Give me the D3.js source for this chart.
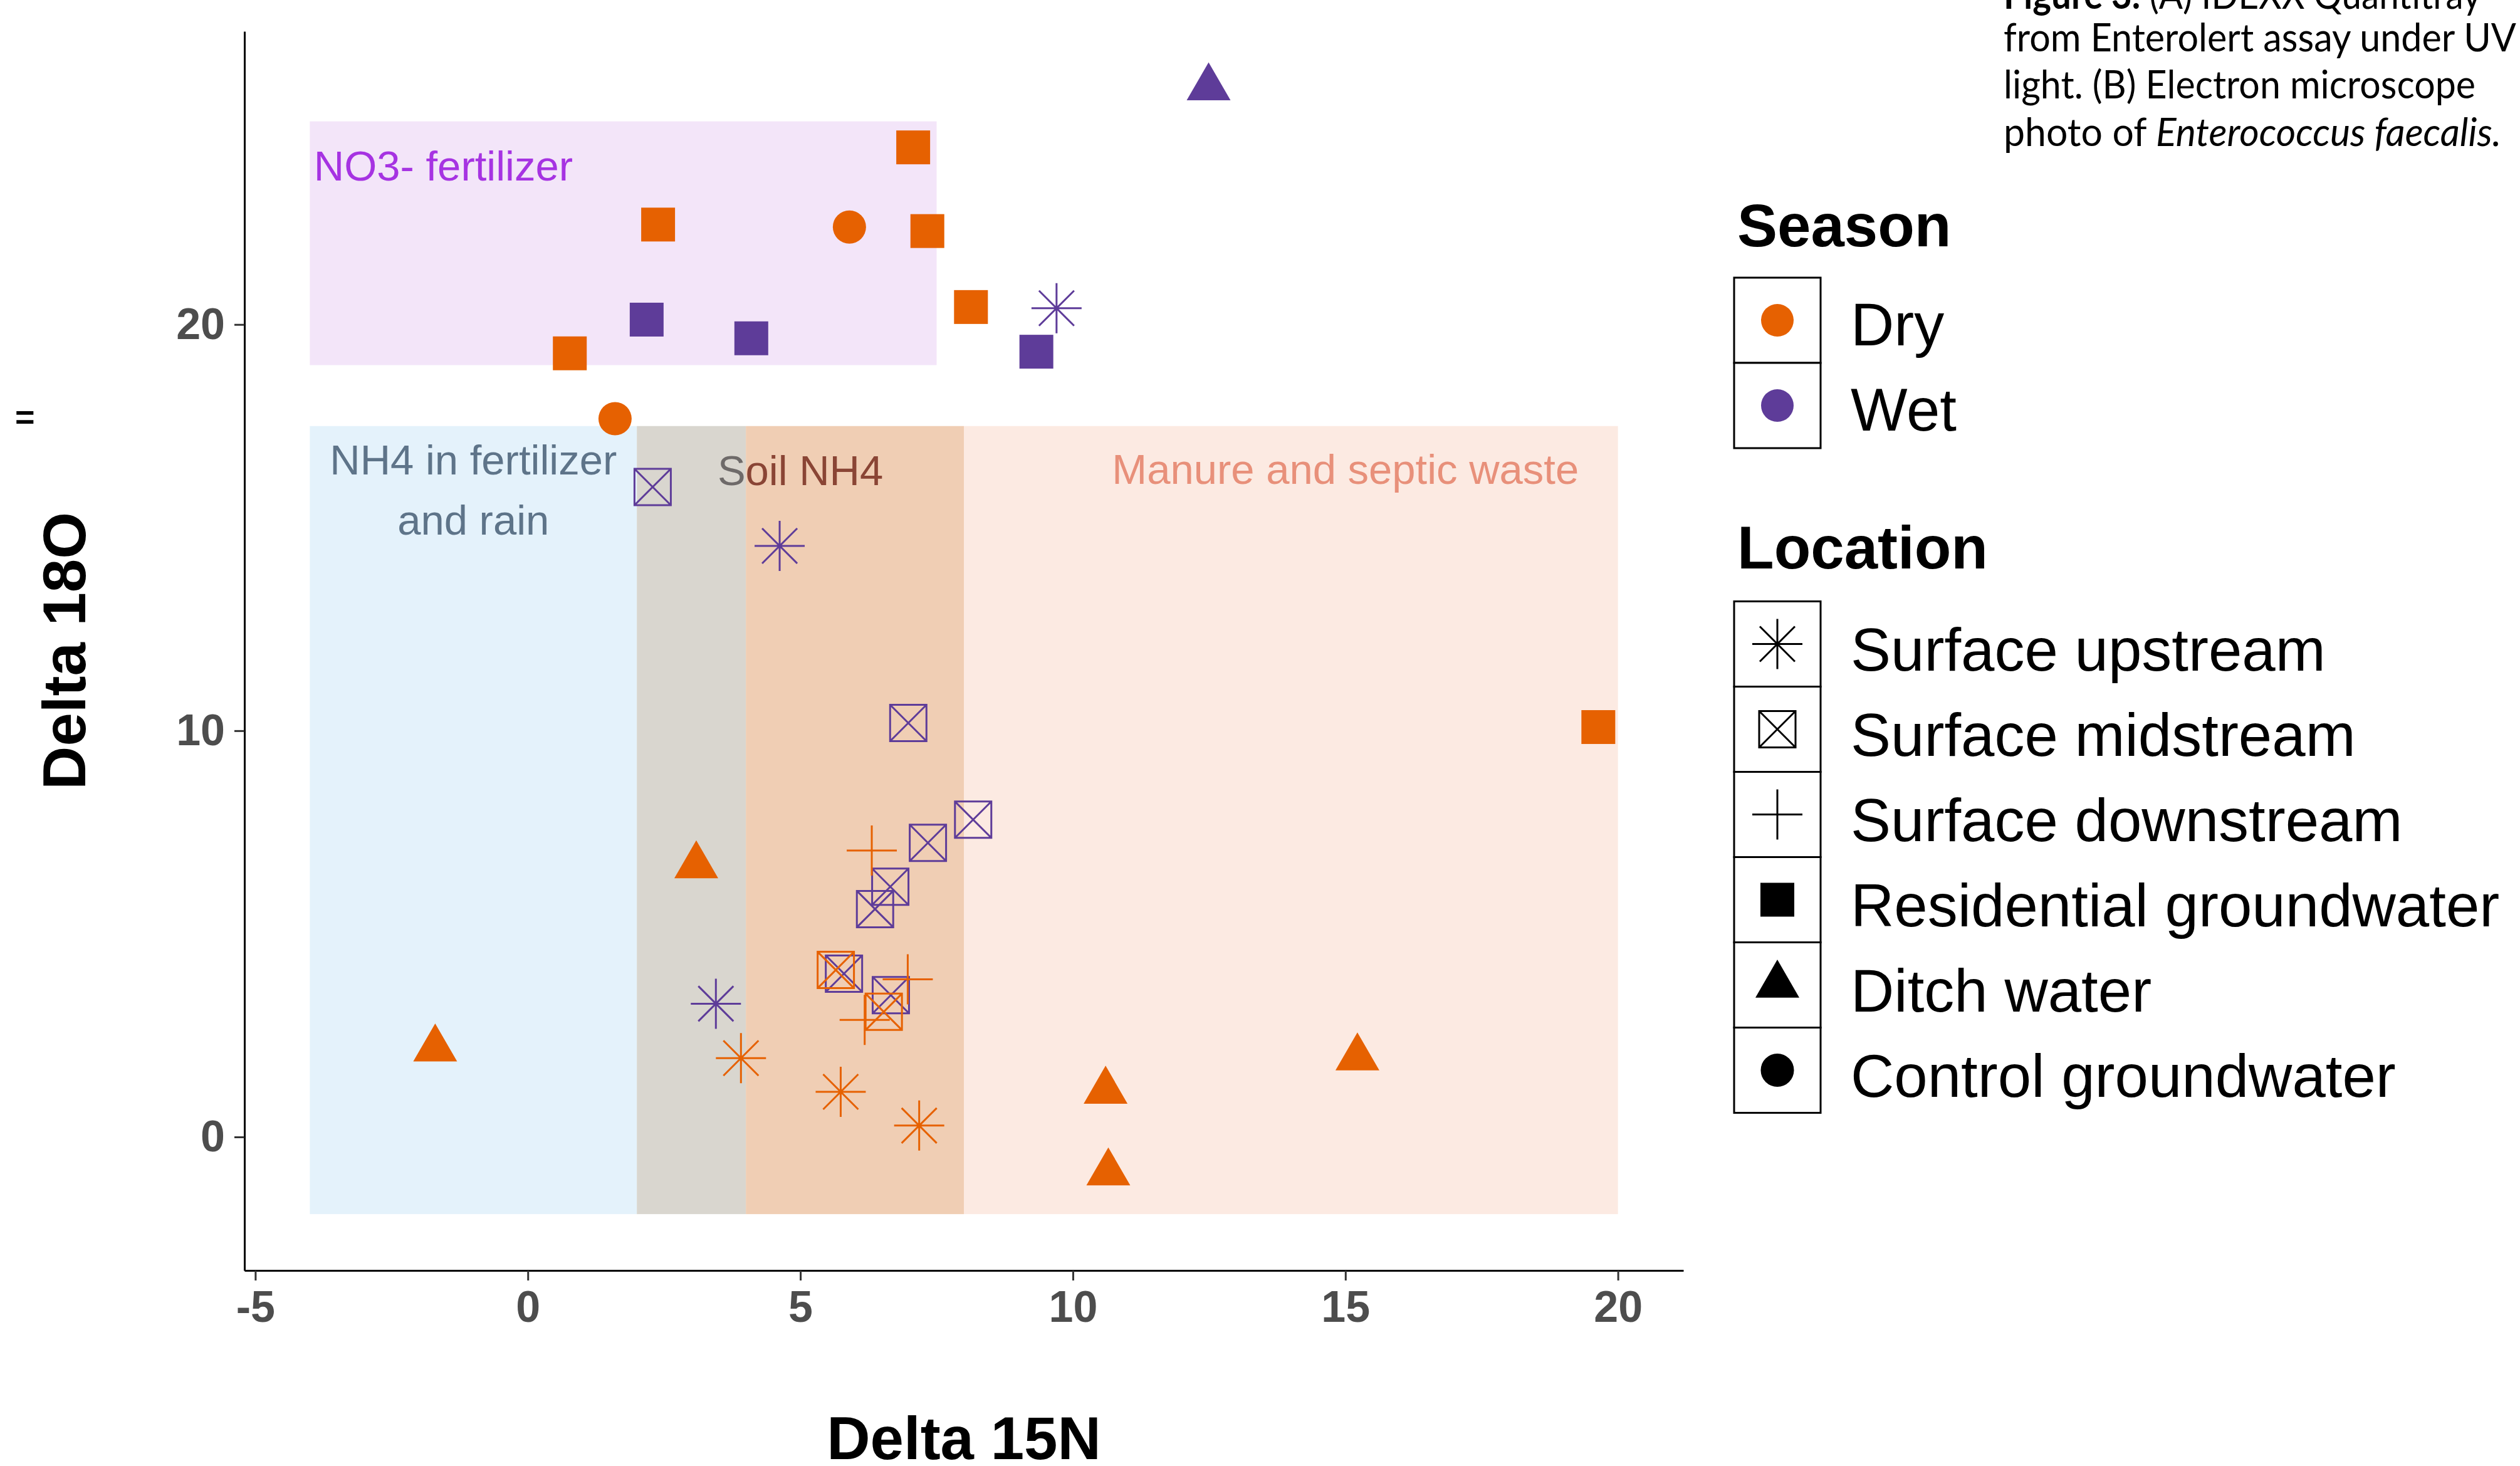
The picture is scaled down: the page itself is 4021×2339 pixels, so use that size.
<!DOCTYPE html>
<html>
<head>
<meta charset="utf-8">
<script src="https://cdn.jsdelivr.net/npm/d3@7"></script>
<style>
  body { margin: 0; background: #fff; }
  svg { display: block; }
</style>
</head>
<body>
<div id="chart"></div>
<script>
// Legend categories
const seasons = ["Dry", "Wet"];
const locations = ["Surface upstream", "Surface midstream", "Surface downstream",
                   "Residential groundwater", "Ditch water", "Control groundwater"];

// Samples
const sampleN15 = [9.70, 4.62, 3.45, 3.91, 5.74, 7.18,
                   2.29, 6.98, 7.34, 8.17, 6.65, 6.37, 5.80, 6.66, 5.65, 6.53,
                   6.31, 6.97, 6.18,
                   2.18, 4.10, 9.33, 7.07, 2.39, 7.33, 8.13, 0.77, 19.64,
                   12.49, 3.09, -1.70, 10.60, 10.65, 15.22,
                   5.90, 1.60];
const sampleO18 = [20.40, 14.55, 3.28, 1.94, 1.11, 0.28,
                   16.00, 10.19, 7.24, 7.81, 6.16, 5.61, 4.02, 3.49, 4.11, 3.08,
                   7.05, 3.88, 2.88,
                   20.12, 19.66, 19.33, 24.36, 22.46, 22.30, 20.43, 19.29, 10.09,
                   25.83, 6.68, 2.17, 1.13, -0.88, 1.95,
                   22.40, 17.68];
const sampleSeason = ["Wet", "Wet", "Wet", "Dry", "Dry", "Dry",
                      "Wet", "Wet", "Wet", "Wet", "Wet", "Wet", "Wet", "Wet", "Dry", "Dry",
                      "Dry", "Dry", "Dry",
                      "Wet", "Wet", "Wet", "Dry", "Dry", "Dry", "Dry", "Dry", "Dry",
                      "Wet", "Dry", "Dry", "Dry", "Dry", "Dry",
                      "Dry", "Dry"];
const sampleLocation = ["Surface upstream", "Surface upstream", "Surface upstream", "Surface upstream", "Surface upstream", "Surface upstream",
                        "Surface midstream", "Surface midstream", "Surface midstream", "Surface midstream", "Surface midstream",
                        "Surface midstream", "Surface midstream", "Surface midstream", "Surface midstream", "Surface midstream",
                        "Surface downstream", "Surface downstream", "Surface downstream",
                        "Residential groundwater", "Residential groundwater", "Residential groundwater", "Residential groundwater",
                        "Residential groundwater", "Residential groundwater", "Residential groundwater", "Residential groundwater",
                        "Residential groundwater",
                        "Ditch water", "Ditch water", "Ditch water", "Ditch water", "Ditch water", "Ditch water",
                        "Control groundwater", "Control groundwater"];

// Source zones (data units)
const zoneX0 = [-4, -4, 2, 4, 8];
const zoneX1 = [7.5, 2, 4, 8, 20];
const zoneY0 = [19, -1.9, -1.9, -1.9, -1.9];
const zoneY1 = [25, 17.5, 17.5, 17.5, 17.5];
const zoneFill = ["#F3E5F9", "#E4F2FB", "#D9D6CF", "#F0CEB4", "#FCEAE2"];

const xTicks = [-5, 0, 5, 10, 15, 20];
const yTicks = [0, 10, 20];

const seasonColor = d3.scaleOrdinal().domain(seasons).range(["#E66101", "#5E3C99"]);

const width = 4021, height = 2339;
const panel = { left: 390, right: 2686, top: 50, bottom: 2027 };
const mainFont = "'Liberation Sans', Arial, Helvetica, sans-serif";

const svg = d3.select("#chart").append("svg")
    .attr("width", width)
    .attr("height", height)
    .style("font-family", mainFont);

// ggplot-like 5% expansion around data + zones
function expand(lo, hi) {
    const pad = (hi - lo) * 0.05;
    return [lo - pad, hi + pad];
}
const xDom = expand(d3.min([...sampleN15, ...zoneX0]), d3.max([...sampleN15, ...zoneX1]));
const yDom = expand(d3.min([...sampleO18, ...zoneY0]), d3.max([...sampleO18, ...zoneY1]));

const x = d3.scaleLinear().domain(xDom).range([panel.left, panel.right]);
const y = d3.scaleLinear().domain(yDom).range([panel.bottom, panel.top]);

// zones
svg.append("g").selectAll("rect")
    .data(zoneX0.map((d, i) => i))
    .join("rect")
    .attr("x", i => x(zoneX0[i]))
    .attr("y", i => y(zoneY1[i]))
    .attr("width", i => x(zoneX1[i]) - x(zoneX0[i]))
    .attr("height", i => y(zoneY0[i]) - y(zoneY1[i]))
    .attr("fill", i => zoneFill[i]);

// zone labels ("Soil NH4" changes colour where it crosses into the tan zone)
const defs = svg.append("defs");
const grad = defs.append("linearGradient")
    .attr("id", "soilText")
    .attr("gradientUnits", "userSpaceOnUse")
    .attr("x1", x(4) - 0.5).attr("x2", x(4) + 0.5)
    .attr("y1", 0).attr("y2", 0);
grad.append("stop").attr("offset", 0).attr("stop-color", "#6E6A69");
grad.append("stop").attr("offset", 0.5).attr("stop-color", "#6E6A69");
grad.append("stop").attr("offset", 0.5).attr("stop-color", "#8A4535");
grad.append("stop").attr("offset", 1).attr("stop-color", "#8A4535");

const zoneLabels = [
    { text: "NO3- fertilizer", x: -1.55, y: 23.55, color: "#A633E2" },
    { text: "NH4 in fertilizer", x: -1.0, y: 16.31, color: "#5E7489" },
    { text: "and rain", x: -1.0, y: 14.83, color: "#5E7489" },
    { text: "Soil NH4", x: 5.0, y: 16.05, color: "url(#soilText)" },
    { text: "Manure and septic waste", x: 15.0, y: 16.08, color: "#E8907A" }
];
svg.append("g").selectAll("text")
    .data(zoneLabels)
    .join("text")
    .attr("x", d => x(d.x))
    .attr("y", d => y(d.y))
    .attr("text-anchor", "middle")
    .attr("font-size", 67)
    .attr("fill", d => d.color)
    .text(d => d.text);

// shapes, ggplot style
function drawShape(sel, loc, color) {
    if (loc === "Surface upstream") {
        sel.append("path")
            .attr("d", "M-40,0H40M0,-40V40M-28,-28L28,28M-28,28L28,-28")
            .attr("fill", "none").attr("stroke", color).attr("stroke-width", 3);
    } else if (loc === "Surface midstream") {
        sel.append("path")
            .attr("d", "M-29,-29H29V29H-29ZM-29,-29L29,29M29,-29L-29,29")
            .attr("fill", "none").attr("stroke", color).attr("stroke-width", 3);
    } else if (loc === "Surface downstream") {
        sel.append("path")
            .attr("d", "M-40,0H40M0,-40V40")
            .attr("fill", "none").attr("stroke", color).attr("stroke-width", 3);
    } else if (loc === "Residential groundwater") {
        sel.append("rect")
            .attr("x", -27).attr("y", -27).attr("width", 54).attr("height", 54)
            .attr("fill", color);
    } else if (loc === "Ditch water") {
        sel.append("path")
            .attr("d", "M0,-40.4L35,20.2L-35,20.2Z")
            .attr("fill", color);
    } else {
        sel.append("circle").attr("r", 26.5).attr("fill", color);
    }
}

// points: wet first, dry on top
const order = d3.range(sampleN15.length)
    .sort((a, b) => d3.descending(sampleSeason[a], sampleSeason[b]) || a - b);

const pts = svg.append("g");
order.forEach(i => {
    const g = pts.append("g")
        .attr("transform", `translate(${x(sampleN15[i])},${y(sampleO18[i])})`);
    drawShape(g, sampleLocation[i], seasonColor(sampleSeason[i]));
});

// axes (plain hyphen for negatives, as in the original)
const xAxis = svg.append("g")
    .attr("transform", `translate(0,${panel.bottom})`)
    .call(d3.axisBottom(x).tickValues(xTicks).tickFormat(d => String(d))
        .tickSize(16).tickSizeOuter(0).tickPadding(16));
const yAxis = svg.append("g")
    .attr("transform", `translate(${panel.left},0)`)
    .call(d3.axisLeft(y).tickValues(yTicks).tickFormat(d => String(d))
        .tickSize(16).tickSizeOuter(0).tickPadding(15));

[xAxis, yAxis].forEach(ax => {
    ax.attr("font-family", mainFont);
    ax.select(".domain").attr("stroke", "#000").attr("stroke-width", 3);
    ax.selectAll(".tick line").attr("stroke", "#333").attr("stroke-width", 3);
    ax.selectAll(".tick text")
        .attr("font-size", 70)
        .attr("font-weight", "bold")
        .attr("fill", "#4D4D4D");
});

// axis titles
svg.append("text")
    .attr("x", (panel.left + panel.right) / 2)
    .attr("y", 2328)
    .attr("text-anchor", "middle")
    .attr("font-size", 96)
    .attr("font-weight", "bold")
    .text("Delta 15N");

svg.append("text")
    .attr("transform", `translate(136,${(panel.top + panel.bottom) / 2}) rotate(-90)`)
    .attr("text-anchor", "middle")
    .attr("font-size", 96)
    .attr("font-weight", "bold")
    .text("Delta 18O");

svg.append("text")
    .attr("x", 24).attr("y", 684)
    .attr("font-size", 54)
    .attr("font-weight", "bold")
    .text("=");

// legends
const keyX = 2767, keyW = 138, keyH = 136, labelX = 2953;

svg.append("text")
    .attr("x", 2772).attr("y", 393)
    .attr("font-size", 96).attr("font-weight", "bold")
    .text("Season");

const seasonKeys = svg.append("g").selectAll("g")
    .data(seasons)
    .join("g")
    .attr("transform", (d, i) => `translate(${keyX},${443 + i * keyH})`);
seasonKeys.append("rect")
    .attr("width", keyW).attr("height", keyH)
    .attr("fill", "#fff").attr("stroke", "#000").attr("stroke-width", 3);
seasonKeys.append("circle")
    .attr("cx", keyW / 2).attr("cy", keyH / 2).attr("r", 26)
    .attr("fill", d => seasonColor(d));
seasonKeys.append("text")
    .attr("x", labelX - keyX).attr("y", keyH / 2 + 40)
    .attr("font-size", 96)
    .text(d => d);

svg.append("text")
    .attr("x", 2772).attr("y", 907)
    .attr("font-size", 96).attr("font-weight", "bold")
    .text("Location");

const locKeys = svg.append("g").selectAll("g")
    .data(locations)
    .join("g")
    .attr("transform", (d, i) => `translate(${keyX},${959.5 + i * keyH})`);
locKeys.append("rect")
    .attr("width", keyW).attr("height", keyH)
    .attr("fill", "#fff").attr("stroke", "#000").attr("stroke-width", 3);
locKeys.each(function(d) {
    const g = d3.select(this).append("g")
        .attr("transform", `translate(${keyW / 2},${keyH / 2})`);
    drawShape(g, d, "#000");
});
locKeys.append("text")
    .attr("x", labelX - keyX).attr("y", keyH / 2 + 42)
    .attr("font-size", 96)
    .text(d => d);

// figure caption fragment, top right (first line is cut by the page edge)
const capFont = "Lato, 'Open Sans', sans-serif";
const capLines = [
    { y: 14, len: 762, parts: [["Figure 3.", "bold", "normal"], [" (A) IDEXX Quantitray", "normal", "normal"]] },
    { y: 82, len: 818, parts: [["from Enterolert assay under UV", "normal", "normal"]] },
    { y: 157, len: 753, parts: [["light. (B) Electron microscope", "normal", "normal"]] },
    { y: 233, len: 794, parts: [["photo of ", "normal", "normal"], ["Enterococcus faecalis.", "normal", "italic"]] }
];
capLines.forEach(line => {
    const t = svg.append("text")
        .attr("x", 3197).attr("y", line.y)
        .attr("font-family", capFont)
        .attr("font-size", 62)
        .attr("textLength", line.len)
        .attr("lengthAdjust", "spacingAndGlyphs");
    line.parts.forEach(p => {
        t.append("tspan")
            .attr("font-weight", p[1])
            .attr("font-style", p[2])
            .text(p[0]);
    });
});
</script>
</body>
</html>
